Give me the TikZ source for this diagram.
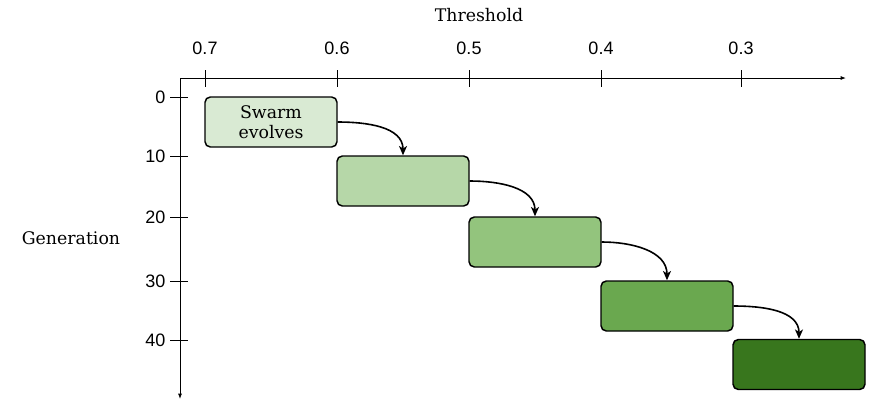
\documentclass[tikz,border=0pt]{standalone}
\usepackage{fontspec}
\setmainfont{DejaVu Serif}
\newfontfamily\numfont{Liberation Sans}
\usetikzlibrary{arrows.meta}
\definecolor{gA}{HTML}{D9EAD3}
\definecolor{gB}{HTML}{B6D7A8}
\definecolor{gC}{HTML}{93C47D}
\definecolor{gD}{HTML}{6AA84F}
\definecolor{gE}{HTML}{38761D}
\begin{document}
\begin{tikzpicture}[x=0.75pt,y=-0.75pt,
  stagebox/.style={draw=black,line width=1.1pt,rounded corners=4pt,minimum width=99pt,minimum height=37.5pt,inner sep=0pt,align=center,font=\fontsize{13}{15}\selectfont},
  axisline/.style={line width=0.75pt,-{Latex[length=4pt,width=3pt]}},
  tickline/.style={line width=0.75pt},
  numlabel/.style={font=\numfont\fontsize{13.5}{15}\selectfont,inner sep=1pt},
  axlabel/.style={font=\fontsize{13}{15}\selectfont},
  flow/.style={line width=1.2pt,-{Stealth[length=7pt,width=6pt,inset=2pt]}}]
\useasboundingbox (0,0) rectangle (883,412);
% axes
\coordinate (o) at (180,78);
\coordinate (xe) at (846,78);
\coordinate (ye) at (180,399);
\draw[axisline] (o) -- (xe);
\draw[axisline] (o) -- (ye);
% x ticks
\foreach \x/\l/\n in {205/0.7/a,337/0.6/b,469/0.5/c,601/0.4/d,741/0.3/e}{
  \coordinate (xt\n1) at (\x,70);
  \coordinate (xt\n2) at (\x,87);
  \draw[tickline] (xt\n1) -- (xt\n2);
  \node[numlabel] (xl\n) at (\x,48) {\l};
}
% y ticks
\foreach \y/\l/\n in {97/0/a,156/10/b,217/20/c,281/30/d,340/40/e}{
  \coordinate (yt\n1) at (170,\y);
  \coordinate (yt\n2) at (188,\y);
  \draw[tickline] (yt\n1) -- (yt\n2);
  \node[numlabel,anchor=east] (yl\n) at (167,\y) {\l};
}
\node[axlabel] (thr) at (479,15) {Threshold};
\node[axlabel] (gen) at (71,238) {Generation};
% boxes
\node[stagebox,fill=gA] (b1) at (271,122) {Swarm\\evolves};
\node[stagebox,fill=gB] (b2) at (403,181) {};
\node[stagebox,fill=gC] (b3) at (535,242) {};
\node[stagebox,fill=gD] (b4) at (667,306) {};
\node[stagebox,fill=gE] (b5) at (799,364.5) {};
% connectors
\draw[flow] (b1.east) to[out=0,in=90] (b2.north);
\draw[flow] (b2.east) to[out=0,in=90] (b3.north);
\draw[flow] (b3.east) to[out=0,in=90] (b4.north);
\draw[flow] (b4.east) to[out=0,in=90] (b5.north);
\end{tikzpicture}
\end{document}
